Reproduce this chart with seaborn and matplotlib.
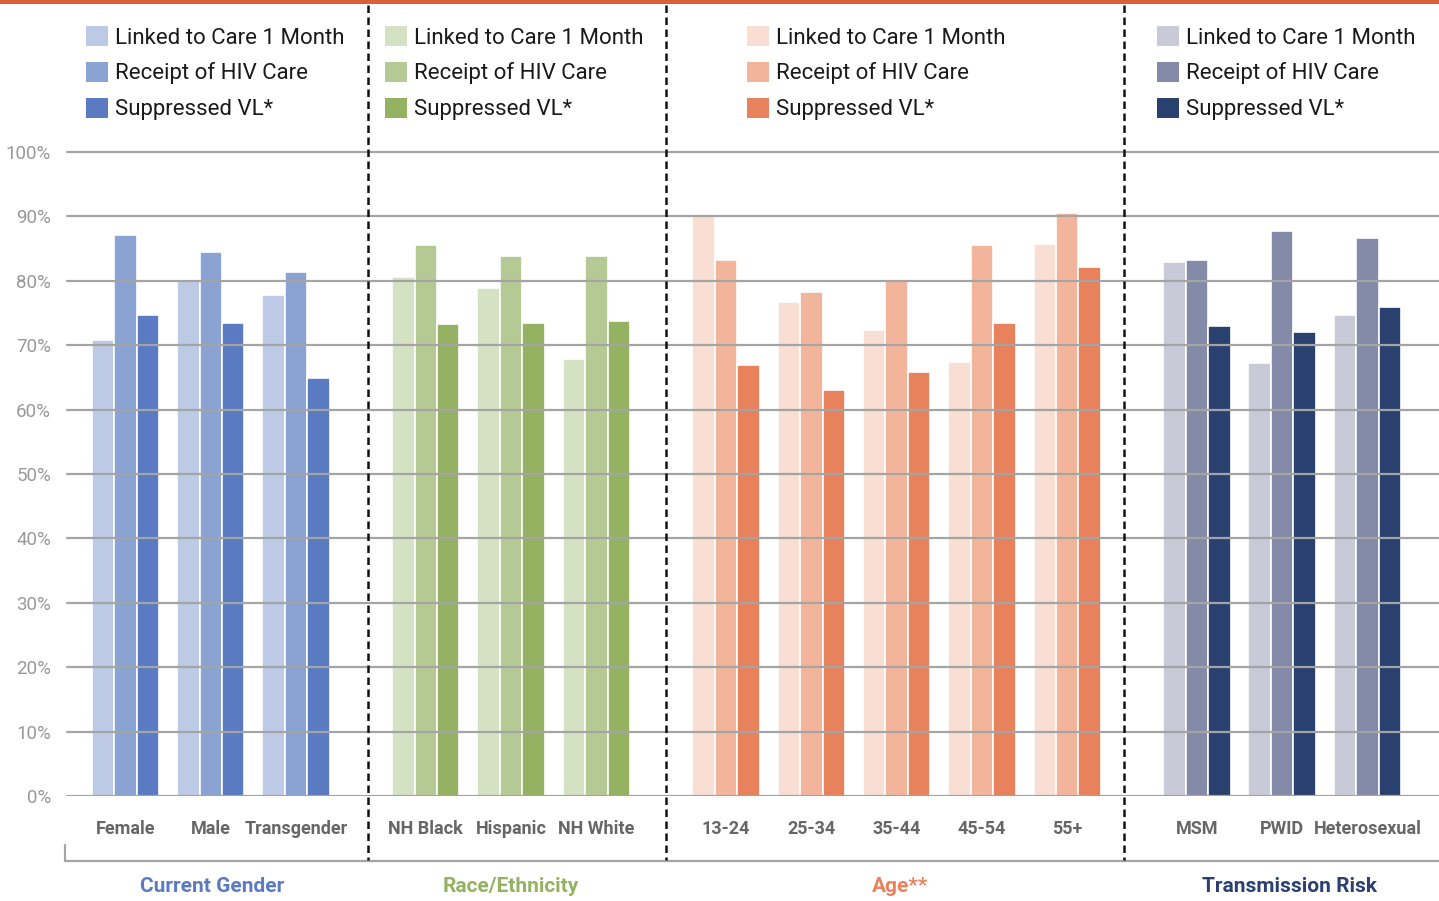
import seaborn as sns
import pandas as pd
import matplotlib
matplotlib.use("Agg")
from matplotlib import pyplot as plt
from matplotlib import font_manager
from matplotlib.patches import Patch

# data (percent)
measures = ["Linked to Care 1 Month", "Receipt of HIV Care", "Suppressed VL*"]

gender_cats = ["Female", "Male", "Transgender"]
gender_linked = [70.8, 80.1, 77.8]
gender_receipt = [87.1, 84.5, 81.4]
gender_supp = [74.7, 73.4, 64.9]

race_cats = ["NH Black", "Hispanic", "NH White"]
race_linked = [80.6, 78.9, 67.8]
race_receipt = [85.5, 83.9, 83.9]
race_supp = [73.3, 73.4, 73.8]

age_cats = ["13-24", "25-34", "35-44", "45-54", "55+"]
age_linked = [90.4, 76.7, 72.4, 67.4, 85.7]
age_receipt = [83.2, 78.2, 80.1, 85.5, 90.5]
age_supp = [66.9, 63.0, 65.9, 73.4, 82.1]

risk_cats = ["MSM", "PWID", "Heterosexual"]
risk_linked = [82.9, 67.3, 74.7]
risk_receipt = [83.3, 87.8, 86.6]
risk_supp = [73.0, 72.1, 76.0]

panel_titles = ["Current Gender", "Race/Ethnicity", "Age**", "Transmission Risk"]
panel_palettes = [
    ["#bccae6", "#8aa3d2", "#5a7bc1"],
    ["#d5e1c3", "#b5c994", "#95b262"],
    ["#f9ded4", "#f2b59c", "#e8825c"],
    ["#c8cad8", "#838ba8", "#2a416f"],
]
title_colors = ["#5a7bc1", "#95b262", "#e8825c", "#2a416f"]

panels = [
    (gender_cats, gender_linked, gender_receipt, gender_supp),
    (race_cats, race_linked, race_receipt, race_supp),
    (age_cats, age_linked, age_receipt, age_supp),
    (risk_cats, risk_linked, risk_receipt, risk_supp),
]

names = {f.name for f in font_manager.fontManager.ttflist}
cond = "Liberation Sans Narrow" if "Liberation Sans Narrow" in names else "Roboto"

sns.set_style("white")
plt.rcParams["font.family"] = ["Roboto", "DejaVu Sans"]

W, H = 1439, 901
fig = plt.figure(figsize=(W / 100, H / 100), dpi=100)

# axes placed in pixel terms: left edge x=65, bottom (0%) y=796, top y=5
px_per_pct = 6.44
px_per_slot, x0 = 85.3, 125.5
ax = fig.add_axes([65 / W, 1 - 796 / H, 1 - 65 / W, (796 - 5) / H])
ax.set_ylim(0, (796 - 5) / px_per_pct)
ax.set_xlim((65 - x0) / px_per_slot, (W - x0) / px_per_slot)
to_pos = lambda x: (x - x0) / px_per_slot

# group positions: one slot per category, a wider gap between panels
positions = []
start = 0.0
for cats, *_ in panels:
    positions.append([start + i for i in range(len(cats))])
    start += len(cats) + 0.52

for (cats, linked, receipt, supp), pos, pal in zip(panels, positions, panel_palettes):
    df = pd.DataFrame({
        "pos": pos * 3,
        "value": linked + receipt + supp,
        "measure": [measures[0]] * len(cats) + [measures[1]] * len(cats) + [measures[2]] * len(cats),
    })
    sns.barplot(data=df, x="pos", y="value", hue="measure", hue_order=measures,
                palette=pal, saturation=1, native_scale=True, width=0.79,
                edgecolor="white", linewidth=1.2, legend=False, ax=ax, zorder=1)

# grid lines 0..100
for v in range(0, 101, 10):
    ax.axhline(v, xmin=2 / (W - 65), color="#a4a4a4", lw=1.6, zorder=3)

ax.set_yticks(range(0, 101, 10))
ax.set_yticklabels([f"{v}%" for v in range(0, 101, 10)], fontsize=13.5,
                   color="#999999")
ax.tick_params(axis="y", length=0, pad=10)

all_pos = [p for ps in positions for p in ps]
all_cats = [c for cats, *_ in panels for c in cats]
ax.set_xticks(all_pos)
ax.set_xticklabels(all_cats, fontsize=13, color="#666666", fontweight="bold",
                   family=[cond, "DejaVu Sans"])
ax.tick_params(axis="x", length=0, pad=17)
ax.set_xlabel("")
ax.set_ylabel("")
sns.despine(ax=ax, left=True, bottom=True, top=True, right=True)

# dashed panel dividers, running past the axis down to the bracket line
trans = ax.get_xaxis_transform()
for xpix in [368, 666, 1124]:
    ax.plot([to_pos(xpix)] * 2, [1, -64 / 791], transform=trans,
            color="#111111", lw=1.8, ls=(0, (3, 1.8)), clip_on=False, zorder=4)

# bottom bracket line
ax.plot([to_pos(65), to_pos(W)], [-65 / 791] * 2, transform=trans,
        color="#a4a4a4", lw=1.6, clip_on=False)
ax.plot([to_pos(65)] * 2, [-49 / 791, -65 / 791], transform=trans,
        color="#a4a4a4", lw=1.6, clip_on=False)

# panel titles
title_x = [212, 511, 900, 1289]
for t, xpix, c in zip(panel_titles, title_x, title_colors):
    fig.text(xpix / W, 1 - 886 / H, t, ha="center", va="center", fontsize=15,
             fontweight="bold", color=c, family=[cond, "DejaVu Sans"])

# legends, one per panel
legend_x = [86, 385, 747, 1157]
for lx, pal in zip(legend_x, panel_palettes):
    handles = [Patch(facecolor=c, edgecolor="none") for c in pal]
    leg = fig.legend(handles, measures, loc="upper left",
                     bbox_to_anchor=(lx / W, 1 - 26 / H), frameon=False,
                     fontsize=16, handlelength=1.0, handleheight=1.0,
                     handletextpad=0.3, labelspacing=0.6, borderpad=0,
                     borderaxespad=0)
    for txt in leg.get_texts():
        txt.set_color("#1a1a1a")

# orange band across the top
fig.patches.append(plt.Rectangle((0, 1 - 4 / H), 1, 4 / H, transform=fig.transFigure,
                                 facecolor="#d9603b", edgecolor="none"))

fig.savefig("out.png", dpi=100)
